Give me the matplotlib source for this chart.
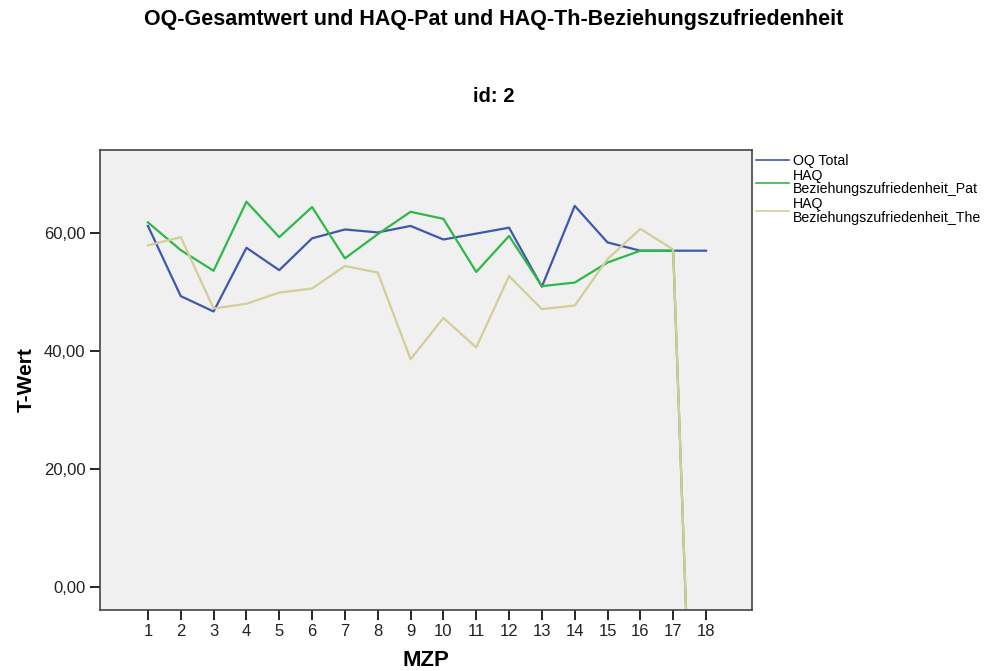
import matplotlib
matplotlib.use("Agg")
import matplotlib.pyplot as plt
from matplotlib.ticker import FuncFormatter

mzp = list(range(1, 19))
oq_total = [61.2, 49.3, 46.7, 57.5, 53.7, 59.1, 60.6, 60.1, 61.2, 58.9,
            59.9, 60.9, 50.9, 64.6, 58.4, 57.0, 57.0, 57.0]
haq_pat = [61.8, 57.1, 53.6, 65.3, 59.3, 64.4, 55.7, 59.8, 63.6, 62.4,
           53.4, 59.5, 51.0, 51.6, 55.0, 57.0, 57.0, -99.0]
haq_the = [57.9, 59.3, 47.2, 48.0, 49.9, 50.6, 54.4, 53.3, 38.6, 45.6,
           40.6, 52.7, 47.1, 47.7, 55.6, 60.7, 57.2, -99.0]
series_labels = ["OQ Total", "HAQ\nBeziehungszufriedenheit_Pat",
                 "HAQ\nBeziehungszufriedenheit_The"]
y_ticks = [0, 20, 40, 60]

plt.rcParams['font.family'] = ['Liberation Sans', 'DejaVu Sans']

fig = plt.figure(figsize=(9.93, 6.71), dpi=100)
ax = fig.add_axes([100/993, 1-610/671, 652/993, 460/671])
ax.set_facecolor('#F0F0F0')

colors = ['#3E58AC', '#2EB848', '#D3CE97']
for vals, lab, c in zip([oq_total, haq_pat, haq_the], series_labels, colors):
    ax.plot(mzp, vals, color=c, lw=1.6, label=lab)

ax.set_xlim(-0.46, 19.4)
ax.set_ylim(-3.9, 74.07)
ax.set_xticks(mzp)
ax.set_yticks(y_ticks)
ax.yaxis.set_major_formatter(FuncFormatter(lambda v, p: f"{v:.2f}".replace('.', ',')))
ax.tick_params(direction='out', length=7, width=1.2, labelsize=12, colors='black',
               labelcolor='#222222')
ax.tick_params(axis='x', pad=3)
for s in ax.spines.values():
    s.set_color('#444444')
    s.set_linewidth(1.2)

ax.set_xlabel('MZP', fontsize=16, fontweight='bold', labelpad=8)
ax.set_ylabel('T-Wert', fontsize=15, fontweight='bold', labelpad=6)

fig.text(0.497, 1-20/671, 'OQ-Gesamtwert und HAQ-Pat und HAQ-Th-Beziehungszufriedenheit',
         ha='center', va='center', fontsize=15.5, fontweight='bold')
fig.text(0.497, 1-97/671, 'id: 2', ha='center', va='center', fontsize=14.5, fontweight='bold')

leg = ax.legend(loc='upper left', bbox_to_anchor=(1.0, 1.0), frameon=False,
                fontsize=10.2, handlelength=2.3, handletextpad=0.3, labelspacing=0.05,
                borderaxespad=0.1, borderpad=0.2)
for t in leg.get_texts():
    t.set_linespacing(0.95)
for l in leg.get_lines():
    l.set_linewidth(1.2)

fig.savefig('out.png', dpi=100)
